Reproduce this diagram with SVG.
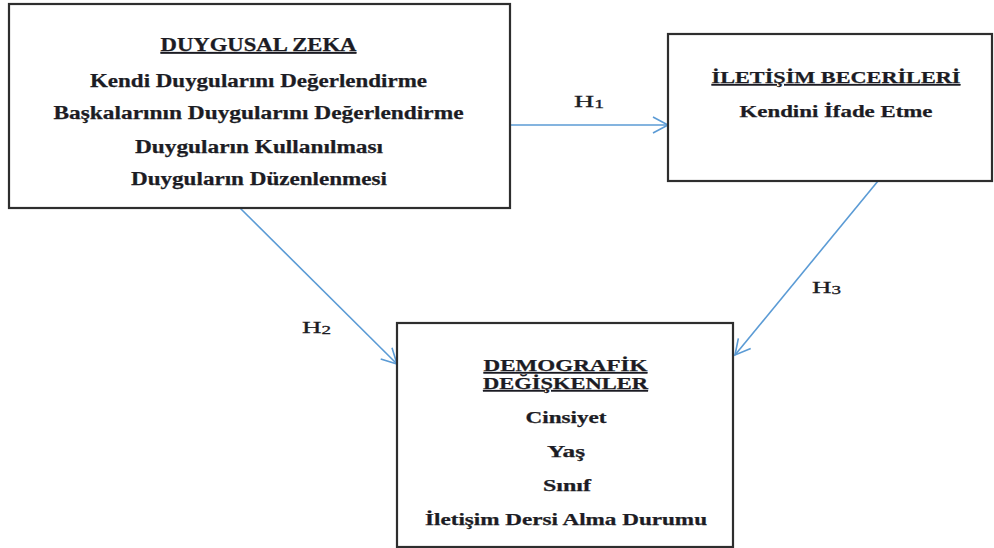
<svg xmlns="http://www.w3.org/2000/svg" width="994" height="548" viewBox="0 0 994 548">
<style>
.box{fill:#fff;stroke:#2e2e2e;stroke-width:2.2}
.t{font-family:"Liberation Serif","Times New Roman",serif;font-weight:bold;fill:#1c1c24;stroke:#1c1c24;stroke-width:0.25;text-anchor:middle}
.t1{font-size:18px}
.t2{font-size:16.5px}
.u{text-decoration:underline}
.lbl{font-family:"Liberation Serif","Times New Roman",serif;font-size:17px;fill:#1c1c24;stroke:#1c1c24;stroke-width:0.3}
.sub{font-size:12px}
.c{fill:none;stroke:#5b9bd5;stroke-width:1.6}
</style>
<defs>
<marker id="arr" viewBox="-17 -10 20 20" refX="0" refY="0" markerWidth="20" markerHeight="20" orient="auto" markerUnits="userSpaceOnUse">
<path d="M-15,-8 L0,0 L-15,8" fill="none" stroke="#5b9bd5" stroke-width="1.6"/>
</marker>
</defs>
<rect width="994" height="548" fill="#fff"/>
<g id="connectors">
<line class="c" x1="510" y1="125" x2="668" y2="125" marker-end="url(#arr)"/>
<line class="c" x1="240" y1="208" x2="397" y2="364" marker-end="url(#arr)"/>
<line class="c" x1="878" y1="181" x2="735" y2="355" marker-end="url(#arr)"/>
<text class="lbl" x="574" y="107" textLength="30" lengthAdjust="spacingAndGlyphs">H<tspan class="sub" dy="1">1</tspan></text>
<text class="lbl" x="302" y="333" textLength="29" lengthAdjust="spacingAndGlyphs">H<tspan class="sub" dy="1">2</tspan></text>
<text class="lbl" x="812" y="293" textLength="29" lengthAdjust="spacingAndGlyphs">H<tspan class="sub" dy="1">3</tspan></text>
</g>
<g id="duygusal-zeka">
<rect class="box" x="9" y="4" width="501" height="204"/>
<text class="t t1 u" x="258.5" y="51" textLength="196" lengthAdjust="spacingAndGlyphs">DUYGUSAL ZEKA</text>
<text class="t t1" x="258.5" y="87" textLength="337" lengthAdjust="spacingAndGlyphs">Kendi Duygularını Değerlendirme</text>
<text class="t t1" x="258.5" y="119" textLength="410" lengthAdjust="spacingAndGlyphs">Başkalarının Duygularını Değerlendirme</text>
<text class="t t1" x="259" y="153" textLength="248" lengthAdjust="spacingAndGlyphs">Duyguların Kullanılması</text>
<text class="t t1" x="259" y="185" textLength="256" lengthAdjust="spacingAndGlyphs">Duyguların Düzenlenmesi</text>
</g>
<g id="iletisim-becerileri">
<rect class="box" x="668" y="34" width="324" height="147"/>
<text class="t t2 u" x="836" y="83" textLength="249" lengthAdjust="spacingAndGlyphs">İLETİŞİM BECERİLERİ</text>
<text class="t t2" x="836" y="117" textLength="193" lengthAdjust="spacingAndGlyphs">Kendini İfade Etme</text>
</g>
<g id="demografik-degiskenler">
<rect class="box" x="397" y="323" width="336" height="224"/>
<text class="t t2 u" x="565.5" y="371" textLength="164" lengthAdjust="spacingAndGlyphs">DEMOGRAFİK</text>
<text class="t t2 u" x="565.5" y="389" textLength="165" lengthAdjust="spacingAndGlyphs">DEĞİŞKENLER</text>
<text class="t t2" x="566" y="423" textLength="81" lengthAdjust="spacingAndGlyphs">Cinsiyet</text>
<text class="t t2" x="566" y="457" textLength="38" lengthAdjust="spacingAndGlyphs">Yaş</text>
<text class="t t2" x="567" y="491" textLength="48" lengthAdjust="spacingAndGlyphs">Sınıf</text>
<text class="t t2" x="566" y="525" textLength="282" lengthAdjust="spacingAndGlyphs">İletişim Dersi Alma Durumu</text>
</g>
</svg>
